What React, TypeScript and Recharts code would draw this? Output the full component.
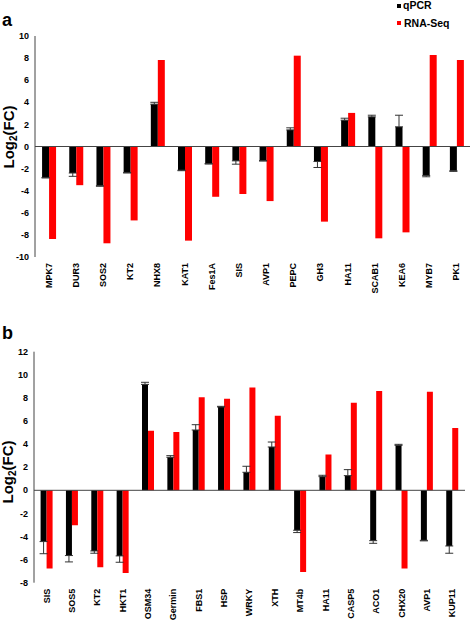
import React from "react";
import { BarChart, Bar, XAxis, YAxis, ReferenceLine, ErrorBar } from "recharts";

const genesA = ["MPK7", "DUR3", "SOS2", "KT2", "NHX8", "KAT1", "Fes1A", "SIS", "AVP1", "PEPC", "GH3", "HA11", "SCAB1", "KEA6", "MYB7", "PK1"];
const qpcrA = [-2.8, -2.4, -3.55, -2.35, 3.83, -2.14, -1.54, -1.3, -1.27, 1.5, -1.36, 2.38, 2.68, 1.78, -2.62, -2.2];
const qpcrErrA = [0.05, 0.3, 0.05, 0.05, 0.17, 0.05, 0.05, 0.3, 0.05, 0.19, 0.54, 0.18, 0.15, 1.05, 0.12, 0.05];
const rnaA = [-8.37, -3.5, -8.76, -6.69, 7.83, -8.52, -4.55, -4.3, -4.94, 8.22, -6.8, 3.04, -8.31, -7.77, 8.28, 7.83];
const ticksA = [-10, -8, -6, -4, -2, 0, 2, 4, 6, 8, 10];

const genesB = ["SIS", "SOS5", "KT2", "HKT1", "OSM34", "Germin", "FBS1", "HSP", "WRKY", "XTH", "MT4b", "HA11", "CASP5", "ACO1", "CHX20", "AVP1", "KUP11"];
const qpcrB = [-4.44, -5.65, -5.25, -5.68, 9.17, 2.86, 5.22, 7.21, 1.56, 3.75, -3.46, 1.18, 1.27, -4.36, 3.89, -4.33, -4.82];
const qpcrErrB = [1.05, 0.55, 0.2, 0.55, 0.18, 0.14, 0.46, 0.06, 0.52, 0.43, 0.2, 0.12, 0.52, 0.23, 0.09, 0.05, 0.63];
const rnaB = [-6.78, -3.03, -6.66, -7.15, 5.16, 5.05, 8.05, 7.93, 8.91, 6.46, -7.07, 3.09, 7.59, 8.6, -6.78, 8.54, 5.39];
const ticksB = [-8, -6, -4, -2, 0, 2, 4, 6, 8, 10, 12];

// error bars point away from zero (the inner half is hidden behind the bar in the original)
const oneSided = (v: number, e: number) => (v >= 0 ? [0, e] : [e, 0]);

const dataA = genesA.map((g, i) => ({ gene: g, qpcr: qpcrA[i], err: oneSided(qpcrA[i], qpcrErrA[i]), rna: rnaA[i] }));
const dataB = genesB.map((g, i) => ({ gene: g, qpcr: qpcrB[i], err: oneSided(qpcrB[i], qpcrErrB[i]), rna: rnaB[i] }));

const FONT = "'Liberation Sans', Arial, sans-serif";

const XTick = (props: any) => {
  const { x, y, payload } = props;
  return (
    <text
      x={x}
      y={y}
      transform={`rotate(-90, ${x}, ${y})`}
      textAnchor="end"
      dominantBaseline="central"
      fontFamily={FONT}
      fontWeight="bold"
      fontSize={9}
      fill="#000"
    >
      {payload.value}
    </text>
  );
};

const YLabel = ({ x, y }: { x: number; y: number }) => (
  <svg style={{ position: "absolute", left: 0, top: 0, overflow: "visible" }} width={1} height={1}>
    <text
      x={x}
      y={y}
      transform={`rotate(-90, ${x}, ${y})`}
      textAnchor="middle"
      fontFamily={FONT}
      fontWeight="bold"
      fontSize={15}
      fill="#000"
    >
      Log
      <tspan fontSize={10} dy={3}>2</tspan>
      <tspan dy={-3}>(FC)</tspan>
    </text>
  </svg>
);

const Panel = (props: any) => {
  const { data, ticks, domain, height, margin, yWidth, xHeight } = props;
  return (
    <BarChart
      width={472}
      height={height}
      data={data}
      margin={margin}
      barGap={0}
      barCategoryGap="26%"
    >
      <XAxis
        dataKey="gene"
        axisLine={false}
        tickLine={false}
        tickSize={0}
        tickMargin={6}
        interval={0}
        height={xHeight}
        tick={<XTick />}
      />
      <YAxis
        type="number"
        domain={domain}
        ticks={ticks}
        interval={0}
        width={yWidth}
        tickLine={false}
        tickSize={0}
        tickMargin={6}
        axisLine={{ stroke: "#444", strokeWidth: 1 }}
        tick={{ fontFamily: FONT, fontWeight: "bold", fontSize: 9, fill: "#000" }}
        allowDataOverflow
      />
      <ReferenceLine y={0} stroke="#444" strokeWidth={1} ifOverflow="extendDomain" />
      <Bar dataKey="qpcr" fill="#000000" isAnimationActive={false}>
        <ErrorBar dataKey="err" direction="y" width={4} stroke="#333" strokeWidth={1} />
      </Bar>
      <Bar dataKey="rna" fill="#ff0000" isAnimationActive={false} />
    </BarChart>
  );
};

export default function App() {
  return (
    <div style={{ position: "absolute", left: 0, top: 0, width: 472, height: 621, background: "#fff", overflow: "hidden", fontFamily: FONT }}>
      <div style={{ position: "absolute", left: 0, top: 0 }}>
        <Panel
          data={dataA}
          ticks={ticksA}
          domain={[-10, 10]}
          height={300}
          margin={{ top: 36, right: 2, bottom: 3, left: 0 }}
          yWidth={35}
          xHeight={40}
        />
      </div>
      <div style={{ position: "absolute", left: 0, top: 310 }}>
        <Panel
          data={dataB}
          ticks={ticksB}
          domain={[-8, 12]}
          height={311}
          margin={{ top: 41.7, right: 7, bottom: 2.3, left: 0 }}
          yWidth={34}
          xHeight={36}
        />
      </div>
      <YLabel x={14} y={137} />
      <YLabel x={13} y={472} />
      <div style={{ position: "absolute", left: 2, top: 10, fontSize: 18, fontWeight: "bold", lineHeight: "20px", color: "#000" }}>a</div>
      <div style={{ position: "absolute", left: 2, top: 323, fontSize: 18, fontWeight: "bold", lineHeight: "20px", color: "#000" }}>b</div>
      <div style={{ position: "absolute", left: 397, top: 4, width: 4, height: 4, background: "#000" }} />
      <div style={{ position: "absolute", left: 403, top: -1, fontSize: 10.5, fontWeight: "bold", lineHeight: "12px", color: "#000" }}>qPCR</div>
      <div style={{ position: "absolute", left: 397, top: 21, width: 4, height: 4, background: "#ff0000" }} />
      <div style={{ position: "absolute", left: 404, top: 17, fontSize: 10.5, fontWeight: "bold", lineHeight: "12px", color: "#000" }}>RNA-Seq</div>
    </div>
  );
}
